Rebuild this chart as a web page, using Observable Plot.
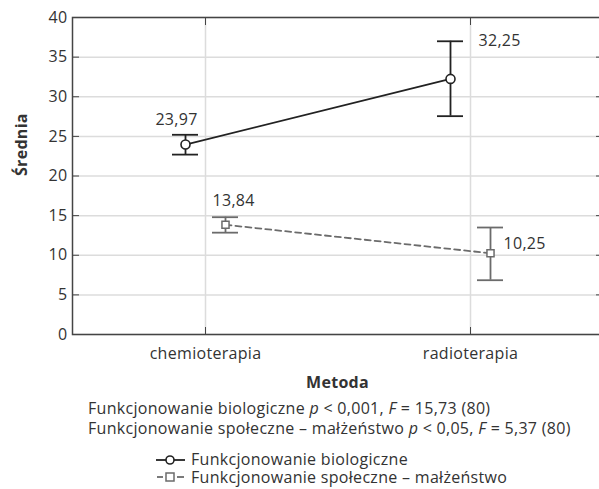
<!DOCTYPE html>
<html>
<head>
<meta charset="utf-8">
<script src="https://cdn.jsdelivr.net/npm/d3@7"></script>
<script src="https://cdn.jsdelivr.net/npm/@observablehq/plot@0.6"></script>
<style>
  html, body { margin: 0; padding: 0; background: #fff; overflow: hidden; }
  body { width: 599px; height: 489px; font-family: "Open Sans", sans-serif; color: #333; letter-spacing: 0.3px; }
  #chart svg { display: block; }
  .note { margin-left: 88px; font-size: 16px; line-height: 20px; color: #333; white-space: nowrap; }
  .legend { margin-left: 156px; margin-top: 13px; font-size: 16px; color: #333; white-space: nowrap; }
  .legend div { display: flex; align-items: center; height: 17.5px; line-height: 17.5px; }
  .legend svg { margin-right: 5px; display: block; }
</style>
</head>
<body>
<div id="chart"></div>
<div class="note">Funkcjonowanie biologiczne <i>p</i> &lt; 0,001, <i>F</i> = 15,73 (80)<br>Funkcjonowanie społeczne – małżeństwo <i>p</i> &lt; 0,05, <i>F</i> = 5,37 (80)</div>
<div class="legend" id="legend"></div>
<script>
// ---- data ----
const categories = ["chemioterapia", "radioterapia"];
const seriesNames = ["Funkcjonowanie biologiczne", "Funkcjonowanie społeczne – małżeństwo"];
const bioMean = [23.97, 32.25];
const bioLow  = [22.7, 27.55];
const bioHigh = [25.2, 37.0];
const socMean = [13.84, 10.25];
const socLow  = [12.85, 6.85];
const socHigh = [14.8, 13.5];
const yTicks = [0, 5, 10, 15, 20, 25, 30, 35, 40];
const xLabel = "Metoda";
const yLabel = "Średnia";

const fmt = v => v.toFixed(2).replace(".", ",");
const bio = categories.map((c, i) => ({cat: c, mean: bioMean[i], low: bioLow[i], high: bioHigh[i], label: fmt(bioMean[i])}));
const soc = categories.map((c, i) => ({cat: c, mean: socMean[i], low: socLow[i], high: socHigh[i], label: fmt(socMean[i])}));

const bioColor = "#222";
const socColor = "#6b6b6b";
const off = 20;

const chart = Plot.plot({
  width: 605,
  height: 398,
  marginLeft: 72,
  marginRight: 3,
  marginTop: 17,
  marginBottom: 64,
  style: {fontFamily: "Open Sans, sans-serif", fontSize: "16px", color: "#333", maxWidth: "none", overflow: "visible", letterSpacing: "0.3px"},
  x: {type: "point", domain: categories, padding: 0.5},
  y: {domain: [0, 40]},
  marks: [
    Plot.gridX({stroke: "#dcdcdc", strokeOpacity: 1, strokeWidth: 1.5}),
    Plot.gridY(yTicks, {stroke: "#dcdcdc", strokeOpacity: 1, strokeWidth: 1.5}),
    Plot.axisY(yTicks, {anchor: "left", tickSize: 0, tickPadding: 5, label: null, fill: "#333"}),
    Plot.axisY(yTicks, {anchor: "left", tickSize: -7, tickFormat: () => "", label: null, stroke: "#444"}),
    Plot.axisY(yTicks, {anchor: "right", tickSize: -7, tickFormat: () => "", label: null, stroke: "#444"}),
    Plot.axisX({anchor: "bottom", tickSize: 0, tickPadding: 13, label: null, fill: "#333"}),
    Plot.axisX({anchor: "bottom", tickSize: -7, tickFormat: () => "", label: null, stroke: "#444"}),
    Plot.axisX({anchor: "top", tickSize: -7, tickFormat: () => "", label: null, stroke: "#444"}),
    Plot.frame({stroke: "#444", strokeWidth: 1.5}),
    Plot.text([xLabel], {frameAnchor: "bottom", dy: 48, fontWeight: "bold", fill: "#333", lineAnchor: "middle"}),
    Plot.text([yLabel], {frameAnchor: "left", dx: -51, rotate: -90, fontWeight: "bold", fill: "#333", lineAnchor: "middle"}),
    // social series
    Plot.line(soc, {x: "cat", y: "mean", dx: off, stroke: socColor, strokeWidth: 1.8, strokeDasharray: "6,4"}),
    Plot.ruleX(soc, {x: "cat", y1: "low", y2: "high", dx: off, stroke: socColor, strokeWidth: 1.8}),
    Plot.ruleY(soc, {y: "high", x1: "cat", x2: "cat", dx: off, insetLeft: -13, insetRight: -13, stroke: socColor, strokeWidth: 1.8}),
    Plot.ruleY(soc, {y: "low", x1: "cat", x2: "cat", dx: off, insetLeft: -13, insetRight: -13, stroke: socColor, strokeWidth: 1.8}),
    Plot.dot(soc, {x: "cat", y: "mean", dx: off, symbol: "square", r: 4, fill: "white", stroke: socColor, strokeWidth: 1.5}),
    // biological series
    Plot.line(bio, {x: "cat", y: "mean", dx: -off, stroke: bioColor, strokeWidth: 1.8}),
    Plot.ruleX(bio, {x: "cat", y1: "low", y2: "high", dx: -off, stroke: bioColor, strokeWidth: 1.8}),
    Plot.ruleY(bio, {y: "high", x1: "cat", x2: "cat", dx: -off, insetLeft: -13, insetRight: -13, stroke: bioColor, strokeWidth: 1.8}),
    Plot.ruleY(bio, {y: "low", x1: "cat", x2: "cat", dx: -off, insetLeft: -13, insetRight: -13, stroke: bioColor, strokeWidth: 1.8}),
    Plot.dot(bio, {x: "cat", y: "mean", dx: -off, symbol: "circle", r: 4.5, fill: "white", stroke: bioColor, strokeWidth: 1.6}),
    // value labels
    Plot.text([bio[0]], {x: "cat", y: "high", text: "label", dx: -29, dy: -15, textAnchor: "middle", lineAnchor: "middle", fill: "#333"}),
    Plot.text([bio[1]], {x: "cat", y: "high", text: "label", dx: 8, dy: 0, textAnchor: "start", lineAnchor: "middle", fill: "#333"}),
    Plot.text([soc[0]], {x: "cat", y: "high", text: "label", dx: 7, dy: -16, textAnchor: "start", lineAnchor: "middle", fill: "#333"}),
    Plot.text([soc[1]], {x: "cat", y: "mean", text: "label", dx: 33, dy: -9, textAnchor: "start", lineAnchor: "middle", fill: "#333"})
  ]
});
document.getElementById("chart").appendChild(chart);

// legend
const legend = d3.select("#legend");
const row1 = legend.append("div");
const s1 = row1.append("svg").attr("width", 30).attr("height", 14);
s1.append("line").attr("x1", 0).attr("x2", 29).attr("y1", 7).attr("y2", 7).attr("stroke", bioColor).attr("stroke-width", 1.8);
s1.append("circle").attr("cx", 14).attr("cy", 7).attr("r", 4).attr("fill", "white").attr("stroke", bioColor).attr("stroke-width", 1.6);
row1.append("span").text(seriesNames[0]);
const row2 = legend.append("div");
const s2 = row2.append("svg").attr("width", 30).attr("height", 14);
s2.append("line").attr("x1", 1).attr("x2", 7).attr("y1", 7).attr("y2", 7).attr("stroke", socColor).attr("stroke-width", 1.8);
s2.append("line").attr("x1", 21).attr("x2", 28).attr("y1", 7).attr("y2", 7).attr("stroke", socColor).attr("stroke-width", 1.8);
s2.append("rect").attr("x", 10).attr("y", 3).attr("width", 8).attr("height", 8).attr("fill", "white").attr("stroke", socColor).attr("stroke-width", 1.5);
row2.append("span").text(seriesNames[1]);
</script>
</body>
</html>
